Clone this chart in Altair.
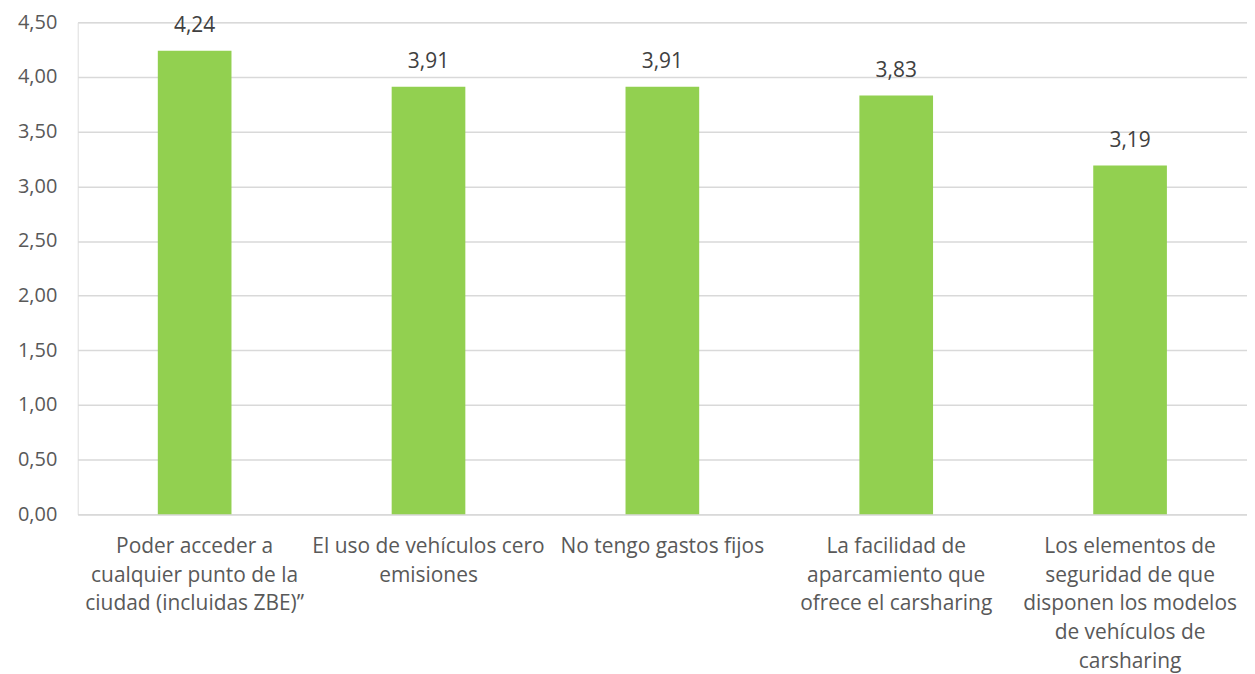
import altair as alt
import pandas as pd

categories = [
    "Poder acceder a|cualquier punto de la|ciudad (incluidas ZBE)”",
    "El uso de vehículos cero|emisiones",
    "No tengo gastos fijos",
    "La facilidad de|aparcamiento que|ofrece el carsharing",
    "Los elementos de|seguridad de que|disponen los modelos|de vehículos de|carsharing",
]
values = [4.24, 3.91, 3.91, 3.83, 3.19]
y_ticks = [0, 0.5, 1, 1.5, 2, 2.5, 3, 3.5, 4, 4.5]

df = pd.DataFrame({"cat": categories, "val": values})

FONT = "Open Sans"
GREY = "#595959"

base = alt.Chart(df).transform_calculate(
    lab="replace(format(datum.val, '.2f'), '.', ',')"
)

x = alt.X(
    "cat:N",
    sort=categories,
    title=None,
    scale=alt.Scale(paddingInner=0.685, paddingOuter=0.3425),
    axis=alt.Axis(
        labelExpr="split(datum.label, '|')",
        labelAngle=0,
        labelFont=FONT,
        labelFontSize=21,
        labelColor=GREY,
        labelLineHeight=29,
        labelPadding=21,
        ticks=False,
        domain=True,
        domainColor="#D9D9D9",
        domainWidth=1.5,
        grid=False,
        labelLimit=400,
    ),
)

y = alt.Y(
    "val:Q",
    title=None,
    scale=alt.Scale(domain=[0, 4.5], nice=False),
    axis=alt.Axis(
        values=y_ticks,
        labelExpr="replace(format(datum.value, '.2f'), '.', ',')",
        labelFont=FONT,
        labelFontSize=20,
        labelColor=GREY,
        labelPadding=21,
        ticks=False,
        domain=False,
        grid=True,
        gridColor="#D9D9D9",
        gridWidth=1.5,
    ),
)

bars = base.mark_bar(color="#92D050").encode(x=x, y=y)
texts = base.mark_text(
    baseline="bottom", dy=-15, font=FONT, fontSize=21, color="#404040"
).encode(x=alt.X("cat:N", sort=categories), y="val:Q", text="lab:N")

chart = (
    alt.layer(bars, texts)
    .properties(
        width=1174,
        height=494,
        autosize=alt.AutoSizeParams(type="none"),
        padding={"left": 70, "top": 13, "right": 0, "bottom": 163},
    )
    .configure_view(stroke=None)
    .configure(background="white")
)

chart.save("out.html", embed_options={"renderer": "svg", "actions": False})
